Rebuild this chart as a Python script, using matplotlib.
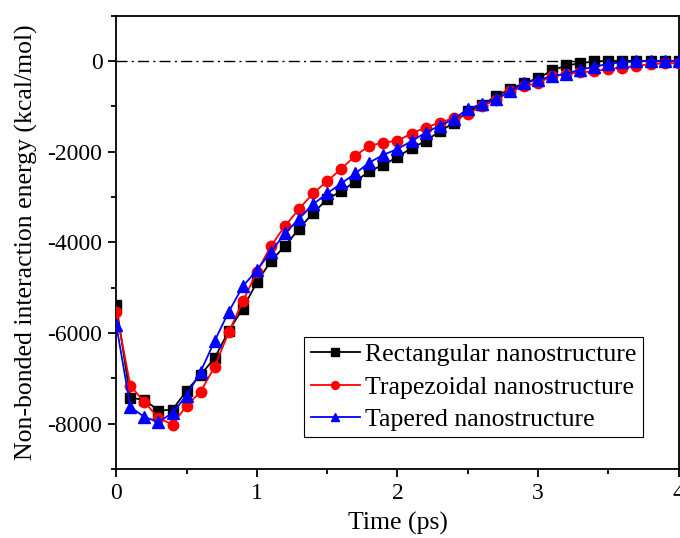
import numpy as np
import matplotlib
matplotlib.use('Agg')
import matplotlib.pyplot as plt
from matplotlib.ticker import MultipleLocator

plt.rcParams['font.family'] = ['Liberation Serif', 'DejaVu Serif']
plt.rcParams['axes.unicode_minus'] = False

time_ps = np.round(np.arange(0, 4.01, 0.1), 1)

rect = [-5380, -7430, -7470, -7710, -7690, -7270, -6920, -6550, -5950, -5460,
        -4880, -4410, -4080, -3700, -3350, -3050, -2870, -2660, -2430, -2290,
        -2120, -1920, -1770, -1550, -1370, -1110, -970, -780, -620, -490,
        -380, -210, -100, -50, -10, 0, 0, 0, 0, 0, 0]
trap = [-5530, -7160, -7520, -7870, -8020, -7600, -7290, -6740, -5980, -5300,
        -4650, -4080, -3640, -3260, -2920, -2650, -2380, -2090, -1870, -1800,
        -1760, -1600, -1470, -1360, -1260, -1160, -1000, -860, -670, -560,
        -480, -340, -290, -250, -230, -170, -150, -110, -70, -50, -50]
tape = [-5820, -7630, -7850, -7960, -7760, -7380, -6850, -6170, -5530, -4970,
        -4610, -4210, -3800, -3480, -3160, -2920, -2700, -2480, -2240, -2070,
        -1940, -1770, -1580, -1430, -1280, -1060, -950, -840, -670, -490,
        -410, -340, -280, -190, -130, -60, -30, -10, 0, 0, -10]

labels = ['Rectangular nanostructure', 'Trapezoidal nanostructure', 'Tapered nanostructure']
colors = ['black', 'red', 'blue']
markers = ['s', 'o', '^']

fig = plt.figure(figsize=(6.8, 5.38), dpi=100)
ax = fig.add_axes([0.171, 0.128, 0.827, 0.843])

ax.axhline(0, color='black', lw=1.0, ls=(0, (8, 3, 1.5, 3)), zorder=1)
for ys, lab, c, m in zip([rect, trap, tape], labels, colors, markers):
    ax.plot(time_ps, ys, color=c, marker=m, ms=7.5 if m != '^' else 8.5,
            lw=1.3, label=lab, zorder=3)

ax.set_xlim(0, 4)
ax.set_ylim(-9000, 1000)
ax.xaxis.set_major_locator(MultipleLocator(1))
ax.xaxis.set_minor_locator(MultipleLocator(0.5))
ax.yaxis.set_major_locator(MultipleLocator(2000))
ax.yaxis.set_minor_locator(MultipleLocator(1000))
ax.tick_params(which='both', direction='out', width=1.3, labelsize=17)
ax.tick_params(which='major', length=6, pad=4)
ax.tick_params(which='minor', length=3.5)
for sp in ax.spines.values():
    sp.set_linewidth(1.3)

ax.set_xlabel('Time (ps)', fontsize=18.5, labelpad=6)
ax.set_ylabel('Non-bonded interaction energy (kcal/mol)', fontsize=18.5, labelpad=7)

leg = ax.legend(loc='lower right', bbox_to_anchor=(0.936, 0.07), fontsize=18.5,
                frameon=True, fancybox=False, edgecolor='black', framealpha=1,
                handlelength=1.9, handletextpad=0.2, borderpad=0.25,
                borderaxespad=0, labelspacing=0.36, markerscale=0.75)
leg.get_frame().set_linewidth(0.8)

fig.savefig('out.png', dpi=100)
